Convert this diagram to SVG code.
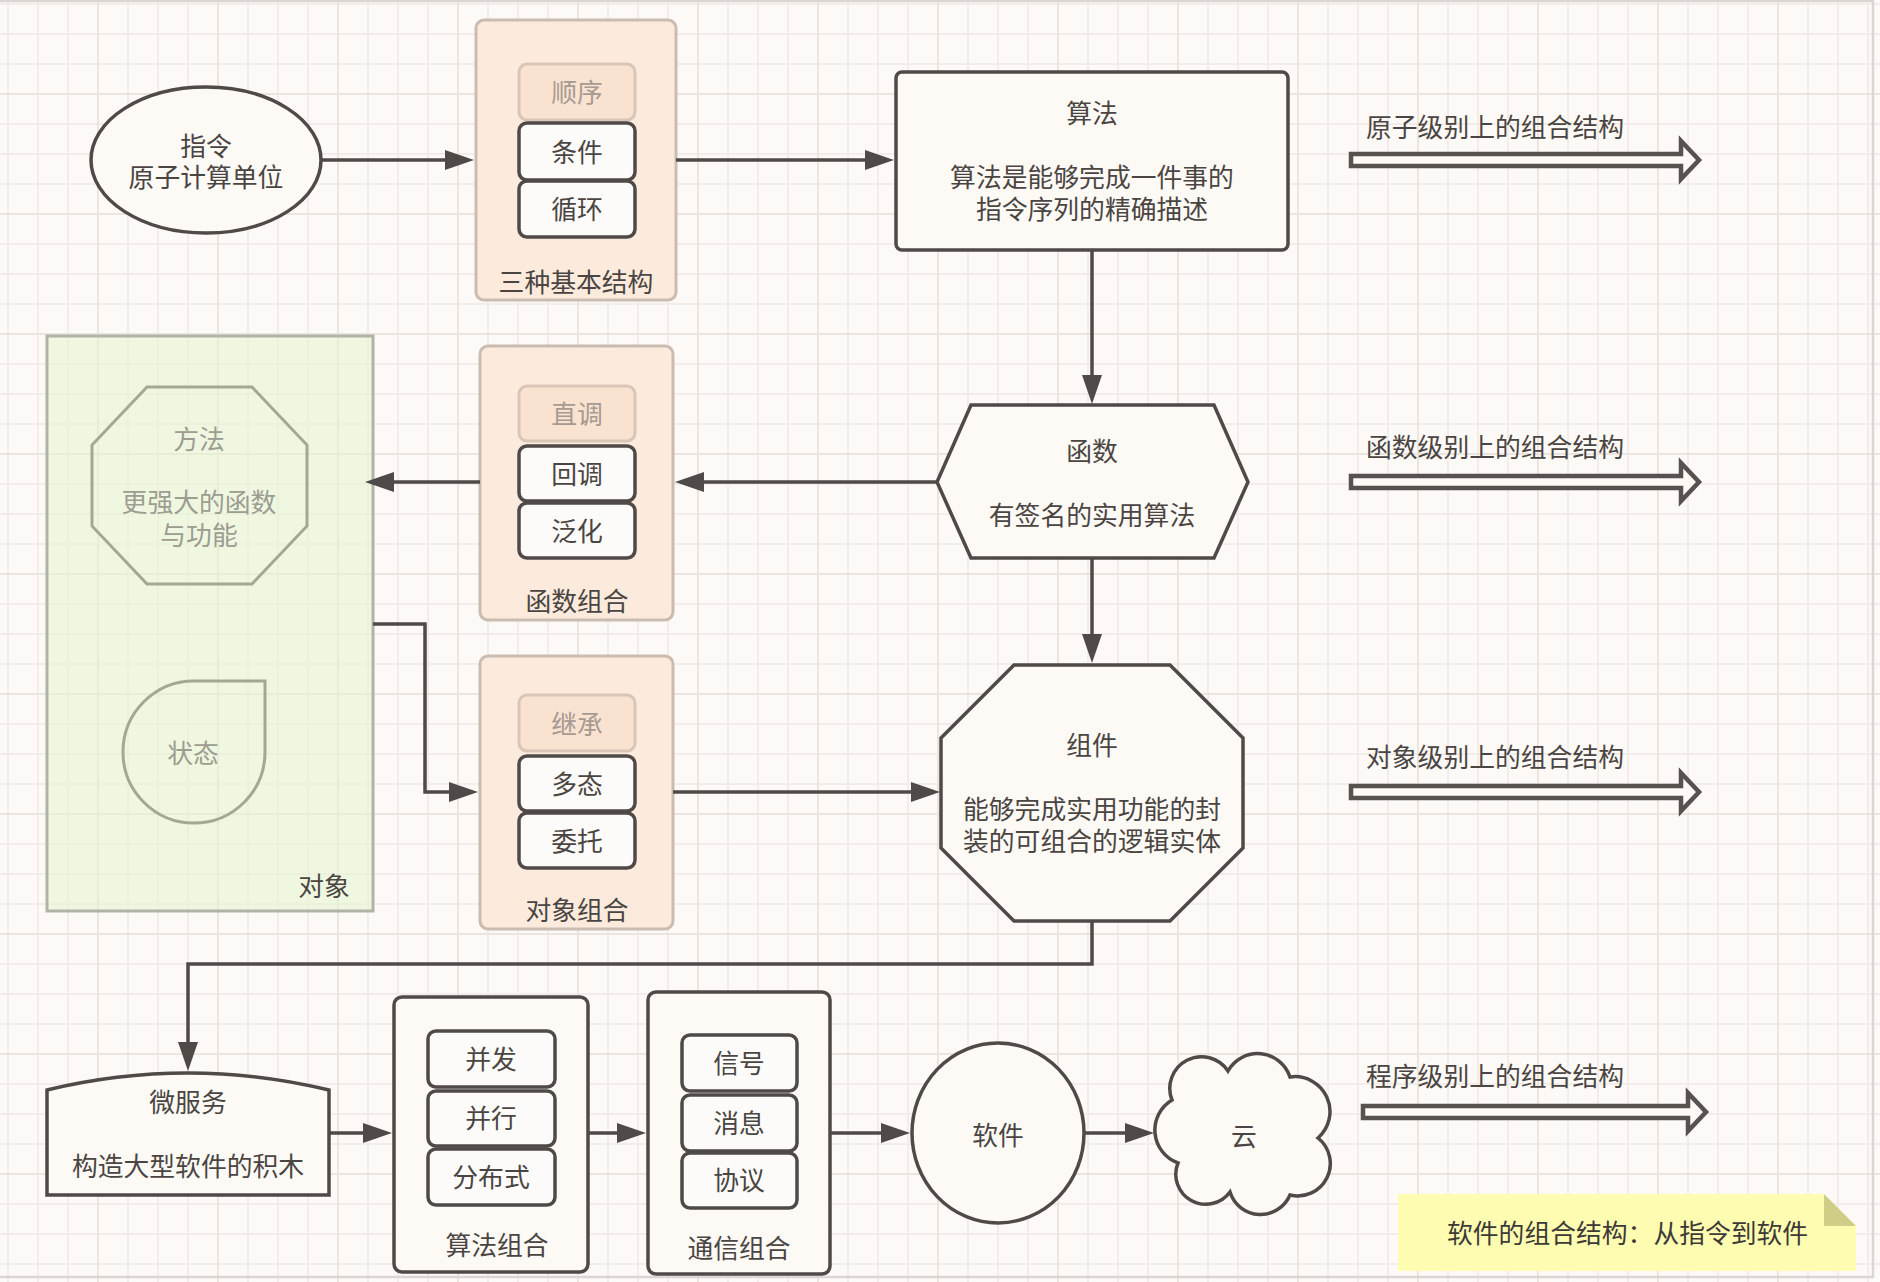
<svg xmlns="http://www.w3.org/2000/svg" width="1880" height="1282" viewBox="0 0 1880 1282">
<defs>
<style>
.t{font-family:"Noto Sans CJK SC","Noto Sans",sans-serif;font-size:25.8px;fill:#4a4542;text-anchor:middle;dominant-baseline:central}
.tl{text-anchor:start}
.tf{fill:#a69a92}
.tg{fill:#9c9d90}
.tn{fill:#3d3935}
.shape{fill:#fdf9f5;stroke:#4f4a47;stroke-width:3.5}
.ibox{fill:#fdfbf9;stroke:#4f4a47;stroke-width:3.5}
.pc{fill:#fcebdd;stroke:#cbbcb2;stroke-width:3}
.pf{fill:#f9e2d0;stroke:#d9c6b8;stroke-width:3}
.gs{fill:none;stroke:#a3a794;stroke-width:3}
.conn{fill:none;stroke:#4f4a47;stroke-width:3.5;marker-end:url(#ah)}
.blk{fill:#fdf9f5;stroke:#57524f;stroke-width:4.5}
</style>
<pattern id="gmin" x="7" y="3" width="30" height="30" patternUnits="userSpaceOnUse">
<rect x="0" y="0" width="2" height="30" fill="#f2ede9"/>
<rect x="0" y="0" width="30" height="2" fill="#f2ede9"/>
</pattern>
<pattern id="gmaj" x="97" y="93" width="120" height="120" patternUnits="userSpaceOnUse">
<rect x="0" y="0" width="2" height="120" fill="#ebe5e0"/>
<rect x="0" y="0" width="120" height="2" fill="#ebe5e0"/>
</pattern>
<marker id="ah" markerUnits="userSpaceOnUse" markerWidth="30" markerHeight="20" refX="9" refY="10" orient="auto" overflow="visible">
<path d="M0,0 L29,10 L0,20 Z" fill="#4f4a47"/>
</marker>
</defs>

<rect x="0" y="0" width="1880" height="1282" fill="#fdf9f6"/>
<rect x="0" y="0" width="1880" height="1282" fill="url(#gmin)"/>
<rect x="0" y="0" width="1880" height="1282" fill="url(#gmaj)"/>
<rect x="-10" y="1" width="1883" height="1276" fill="none" stroke="#dcd6d3" stroke-width="2.5"/>

<g id="instr">
<ellipse class="shape" cx="206" cy="160" rx="115" ry="73"/>
<text class="t" x="206" y="144">指令</text>
<text class="t" x="206" y="175">原子计算单位</text>
</g>

<g id="basic-structures">
<rect class="pc" x="476" y="20" width="200" height="280" rx="8"/>
<rect class="pf" x="519" y="64" width="116" height="56" rx="8"/>
<text class="t tf" x="577" y="90">顺序</text>
<rect class="ibox" x="519" y="123" width="116" height="57" rx="8"/>
<text class="t" x="577" y="150">条件</text>
<rect class="ibox" x="519" y="181" width="116" height="56" rx="8"/>
<text class="t" x="577" y="207">循环</text>
<text class="t" x="576" y="280">三种基本结构</text>
</g>

<g id="algorithm">
<rect class="shape" x="896" y="72" width="392" height="178" rx="6" stroke-width="4"/>
<text class="t" x="1092" y="111">算法</text>
<text class="t" x="1092" y="175">算法是能够完成一件事的</text>
<text class="t" x="1092" y="207">指令序列的精确描述</text>
</g>

<g id="function">
<polygon class="shape" points="971,405 1214,405 1248,482 1214,558 971,558 937,482" stroke-width="4"/>
<text class="t" x="1092" y="449">函数</text>
<text class="t" x="1092" y="513">有签名的实用算法</text>
</g>

<g id="function-composition">
<rect class="pc" x="480" y="346" width="193" height="274" rx="8"/>
<rect class="pf" x="519" y="386" width="116" height="55" rx="8"/>
<text class="t tf" x="577" y="412">直调</text>
<rect class="ibox" x="519" y="446" width="116" height="55" rx="8"/>
<text class="t" x="577" y="472">回调</text>
<rect class="ibox" x="519" y="503" width="116" height="55" rx="8"/>
<text class="t" x="577" y="529">泛化</text>
<text class="t" x="577" y="599">函数组合</text>
</g>

<g id="object">
<rect x="47" y="336" width="326" height="575" fill="#e3f5cf" fill-opacity="0.55" stroke="#b0b3a6" stroke-width="3"/>
<polygon class="gs" points="147,387 252,387 307,445 307,526 252,584 147,584 92,526 92,445"/>
<text class="t tg" x="199" y="437">方法</text>
<text class="t tg" x="199" y="500">更强大的函数</text>
<text class="t tg" x="199" y="533">与功能</text>
<path class="gs" d="M194,681 L265,681 L265,752 A71,71 0 1 1 194,681 Z"/>
<text class="t tg" x="193" y="751">状态</text>
<text class="t" x="324" y="884">对象</text>
</g>

<g id="object-composition">
<rect class="pc" x="480" y="656" width="193" height="273" rx="8"/>
<rect class="pf" x="519" y="695" width="116" height="56" rx="8"/>
<text class="t tf" x="577" y="722">继承</text>
<rect class="ibox" x="519" y="756" width="116" height="55" rx="8"/>
<text class="t" x="577" y="782">多态</text>
<rect class="ibox" x="519" y="813" width="116" height="55" rx="8"/>
<text class="t" x="577" y="839">委托</text>
<text class="t" x="577" y="908">对象组合</text>
</g>

<g id="component">
<polygon class="shape" points="1014,665 1170,665 1243,738 1243,848 1170,921 1014,921 941,848 941,738" stroke-width="4"/>
<text class="t" x="1092" y="743">组件</text>
<text class="t" x="1092" y="807">能够完成实用功能的封</text>
<text class="t" x="1092" y="839">装的可组合的逻辑实体</text>
</g>

<g id="microservice">
<path class="shape" d="M47,1090 A593,593 0 0 1 329,1090 L329,1195 L47,1195 Z"/>
<text class="t" x="188" y="1100">微服务</text>
<text class="t" x="188" y="1164">构造大型软件的积木</text>
</g>

<g id="algorithm-composition">
<rect class="shape" x="394" y="997" width="194" height="275" rx="8"/>
<rect class="ibox" x="428" y="1031" width="127" height="56" rx="8"/>
<text class="t" x="491" y="1057">并发</text>
<rect class="ibox" x="428" y="1091" width="127" height="55" rx="8"/>
<text class="t" x="491" y="1116">并行</text>
<rect class="ibox" x="428" y="1149" width="127" height="56" rx="8"/>
<text class="t" x="491" y="1175">分布式</text>
<text class="t" x="497" y="1243">算法组合</text>
</g>

<g id="communication-composition">
<rect class="shape" x="648" y="992" width="182" height="282" rx="8"/>
<rect class="ibox" x="682" y="1035" width="115" height="56" rx="8"/>
<text class="t" x="739" y="1061">信号</text>
<rect class="ibox" x="682" y="1095" width="115" height="56" rx="8"/>
<text class="t" x="739" y="1121">消息</text>
<rect class="ibox" x="682" y="1153" width="115" height="55" rx="8"/>
<text class="t" x="739" y="1178">协议</text>
<text class="t" x="739" y="1246">通信组合</text>
</g>

<g id="software">
<ellipse class="shape" cx="998" cy="1133" rx="86" ry="90"/>
<text class="t" x="998" y="1133">软件</text>
</g>

<g id="cloud">
<path class="shape" d="M1172,1100 A31.7,31.7 0 0 1 1228,1071 A34,34 0 0 1 1290,1077 A35,35 0 0 1 1318,1138 A32.5,32.5 0 0 1 1290,1195 A32,32 0 0 1 1230,1192 A30,30 0 0 1 1178,1163 A35,35 0 0 1 1172,1100 Z"/>
<text class="t" x="1244" y="1134">云</text>
</g>

<g id="level-arrows">
<polygon class="blk" points="1351,154 1681,154 1681,141 1699,160 1681,179 1681,166 1351,166"/>
<text class="t tl" x="1366" y="125">原子级别上的组合结构</text>
<polygon class="blk" points="1351,476 1681,476 1681,463 1699,482 1681,501 1681,488 1351,488"/>
<text class="t tl" x="1366" y="445">函数级别上的组合结构</text>
<polygon class="blk" points="1351,786 1681,786 1681,773 1699,792 1681,811 1681,798 1351,798"/>
<text class="t tl" x="1366" y="755">对象级别上的组合结构</text>
<polygon class="blk" points="1363,1106 1688,1106 1688,1093 1706,1112 1688,1131 1688,1118 1363,1118"/>
<text class="t tl" x="1366" y="1074">程序级别上的组合结构</text>
</g>

<g id="note">
<polygon points="1398,1194 1824,1194 1856,1226 1856,1271 1398,1271" fill="#fefcb1"/>
<polygon points="1824,1194 1824,1226 1856,1226" fill="#cfcd86"/>
<text class="t tl tn" x="1447" y="1231">软件的组合结构：从指令到软件</text>
</g>

<g id="connectors">
<path class="conn" d="M321,160 H454"/>
<path class="conn" d="M676,160 H874"/>
<path class="conn" d="M1092,250 V384"/>
<path class="conn" d="M937,482 H695"/>
<path class="conn" d="M480,482 H385"/>
<path class="conn" d="M373,624 H425 V792 H458"/>
<path class="conn" d="M673,792 H920"/>
<path class="conn" d="M1092,559 V643"/>
<path class="conn" d="M1092,921 V964 H188 V1051"/>
<path class="conn" d="M329,1133 H372"/>
<path class="conn" d="M588,1133 H626"/>
<path class="conn" d="M830,1133 H890"/>
<path class="conn" d="M1084,1133 H1134"/>
</g>
</svg>
